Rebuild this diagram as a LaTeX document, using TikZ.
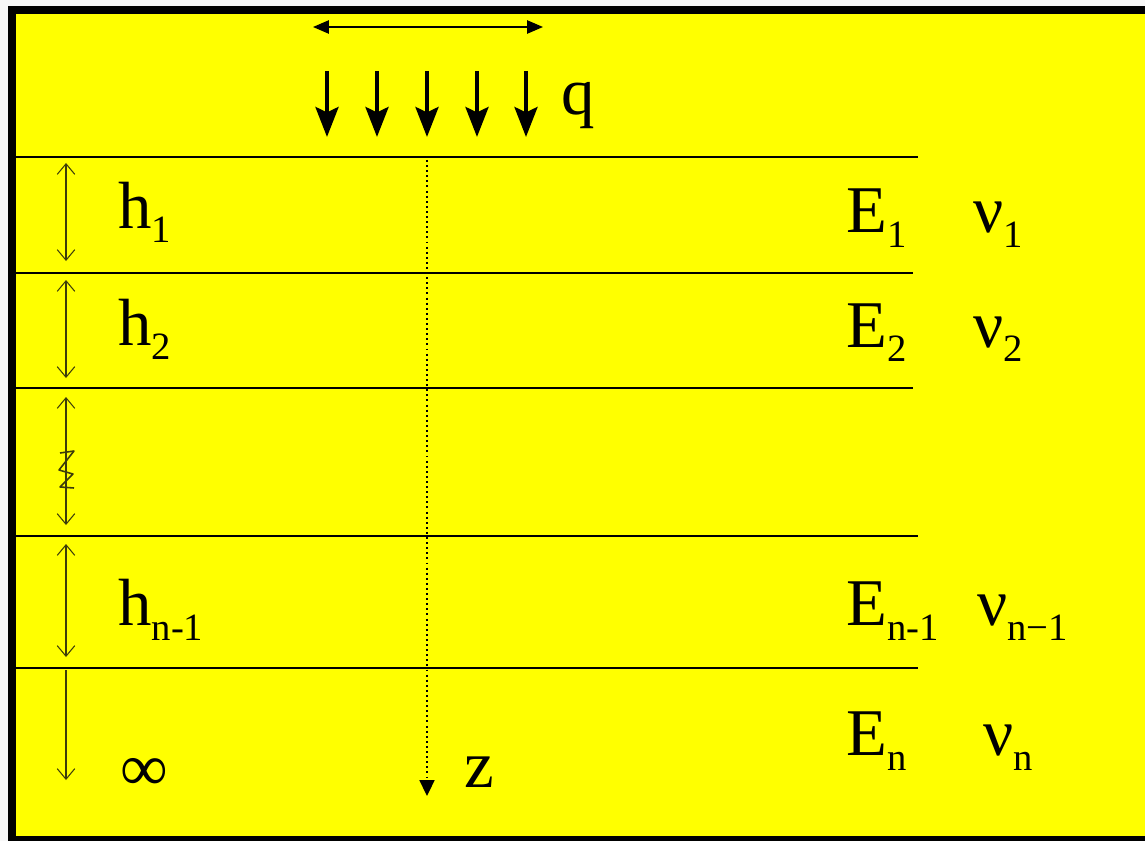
\documentclass[tikz,border=0pt]{standalone}
\usepackage{fontspec}
\setmainfont{Liberation Serif}
\usetikzlibrary{arrows.meta}
\definecolor{barb}{RGB}{60,60,10}
\definecolor{soil}{RGB}{255,255,0}
\newcommand{\lsub}[1]{\raisebox{-0.3cm}{\fontsize{22pt}{24pt}\selectfont #1}}

\begin{document}
\begin{tikzpicture}[
  x=0.02cm, y=-0.02cm,
  lbl/.style={anchor=base west, inner sep=0pt, font=\fontsize{38pt}{40pt}\selectfont},
  layer/.style={line width=1.4pt},
  load/.style={-{Stealth[length=17pt, width=13pt, inset=3pt]}, line width=2.6pt},
  span/.style={{Triangle[length=9pt, width=7.5pt]}-{Triangle[length=9pt, width=7.5pt]}, line width=0.9pt},
  axis/.style={-{Triangle[length=9pt, width=8.5pt]}, line width=1pt, dash pattern=on 1.1pt off 1.8pt},
  depth/.style={{Straight Barb[length=6pt, width=10pt]}-{Straight Barb[length=6pt, width=10pt]}, line width=0.6pt, draw=barb},
  halfdepth/.style={-{Straight Barb[length=6pt, width=10pt]}, line width=0.6pt, draw=barb}
]

% frame
\fill[gray!6] (0,0) rectangle (1145,841);
\useasboundingbox (0,0) rectangle (1145,841);
\draw[line width=4.6pt, fill=soil] (12,10) rectangle (1170,840);

% layer interfaces
\draw[layer] (15,157) -- (918,157);
\draw[layer] (15,273) -- (913,273);
\draw[layer] (15,388) -- (913,388);
\draw[layer] (15,536) -- (918,536);
\draw[layer] (15,668) -- (918,668);

% load
\coordinate (spanL) at (313,27);
\coordinate (spanR) at (543,27);
\draw[span] (spanL) -- (spanR);
\foreach \x [count=\i] in {327,377,427,477,526} {
  \coordinate (load\i) at (\x,71);
  \coordinate (tip\i) at (\x,137);
  \draw[load] (load\i) -- (tip\i);
}
\node[lbl] (q) at (561,115) {q};

% depth axis
\coordinate (ztop) at (427,160);
\coordinate (zend) at (427,796);
\draw[axis] (ztop) -- (zend);
\node[lbl] (z) at (464,787) {z};

% thicknesses
\coordinate (d1a) at (66,163);
\coordinate (d1b) at (66,261);
\coordinate (d2a) at (66,280);
\coordinate (d2b) at (66,378);
\coordinate (d3a) at (66,397);
\coordinate (d3b) at (66,525);
\coordinate (d4a) at (66,544);
\coordinate (d4b) at (66,657);
\coordinate (d5a) at (66,670);
\coordinate (d5b) at (66,780);
\draw[depth] (d1a) -- (d1b);
\draw[depth] (d2a) -- (d2b);
\draw[depth] (d3a) -- (d3b);
\draw[depth] (d4a) -- (d4b);
\draw[halfdepth] (d5a) -- (d5b);
\draw[barb, line width=0.9pt, line join=round]
  (60,453) -- (74,451) -- (59,470) -- (73,474) -- (60,487) -- (74,488);

\node[lbl] (h1) at (118,228) {h\lsub{1}};
\node[lbl] (h2) at (118,345) {h\lsub{2}};
\node[lbl] (hn1) at (118,625) {h\lsub{n-1}};
\node[lbl] (inf) at (120,790) {∞};

% moduli
\node[lbl] (E1) at (846,233) {E\lsub{1}};
\node[lbl] (nu1) at (973,233) {ν\lsub{1}};
\node[lbl] (E2) at (846,347) {E\lsub{2}};
\node[lbl] (nu2) at (973,347) {ν\lsub{2}};
\node[lbl] (En1) at (846,625) {E\lsub{n-1}};
\node[lbl] (nun1) at (977,625) {ν\lsub{n−1}};
\node[lbl] (En) at (846,755) {E\lsub{n}};
\node[lbl] (nun) at (983,755) {ν\lsub{n}};

\end{tikzpicture}
\end{document}
